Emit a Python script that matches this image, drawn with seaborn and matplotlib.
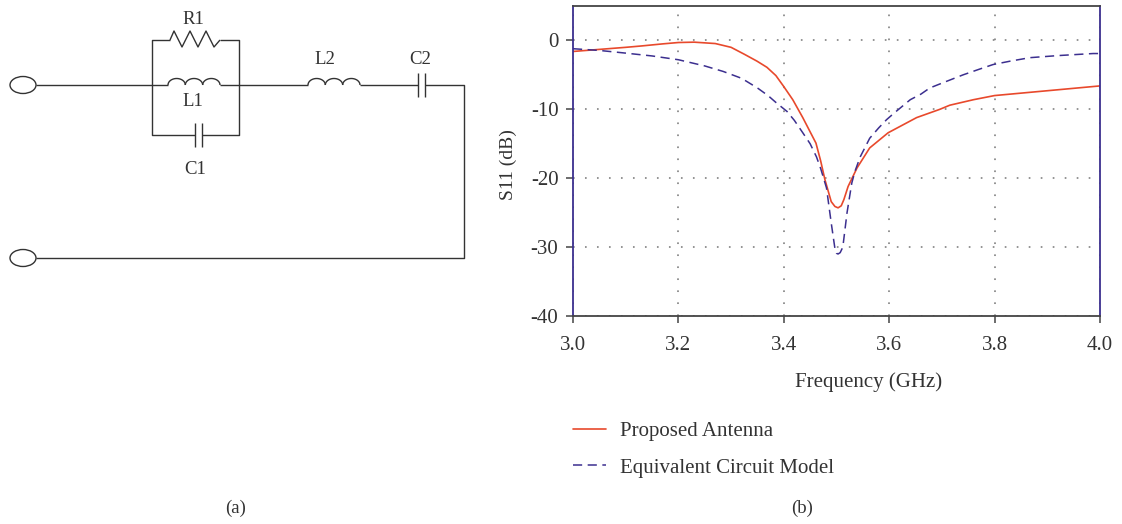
#%% import
import numpy as np
import matplotlib
matplotlib.use('Agg')
import matplotlib.pyplot as plt
from matplotlib.patches import Ellipse
import seaborn as sns

sns.set_theme(style='white')
plt.rcParams['font.family'] = ['Liberation Serif', 'DejaVu Serif']

#%% data
freq_antenna = [3.0, 3.05, 3.1, 3.13, 3.17, 3.2, 3.23, 3.27, 3.3, 3.325, 3.349, 3.368, 3.385, 3.4, 3.417, 3.436, 3.461,
                3.47, 3.478, 3.49, 3.497, 3.503, 3.509, 3.514, 3.522, 3.539, 3.563, 3.598, 3.652, 3.696, 3.715,
                3.76, 3.8, 3.9, 4.0]
s11_antenna = [-1.6, -1.3, -1.0, -0.8, -0.5, -0.3, -0.25, -0.45, -1.0, -2.0, -3.0, -3.9, -5.1, -6.7, -8.6, -11.2, -14.9,
               -17.5, -20.2, -23.4, -24.1, -24.3, -24.0, -23.1, -21.2, -18.5, -15.6, -13.4, -11.2, -10.0, -9.4,
               -8.6, -8.0, -7.3, -6.6]
freq_model = [3.0, 3.05, 3.095, 3.15, 3.2, 3.25, 3.285, 3.32, 3.35, 3.37, 3.385, 3.406, 3.42, 3.436, 3.45, 3.462,
              3.47, 3.481, 3.49, 3.497, 3.5, 3.503, 3.507, 3.512, 3.52, 3.529, 3.535, 3.545, 3.563, 3.58, 3.595,
              3.61, 3.64, 3.66, 3.677, 3.7, 3.74, 3.77, 3.797, 3.83, 3.867, 3.92, 3.987, 4.0]
s11_model = [-1.2, -1.45, -1.8, -2.25, -2.8, -3.7, -4.5, -5.5, -6.9, -8.0, -9.0, -10.3, -11.6, -13.4, -15.0, -16.9,
             -18.6, -21.4, -26.5, -30.2, -30.9, -31.0, -30.8, -30.0, -25.0, -20.7, -19.0, -16.9, -14.2, -12.7, -11.5,
             -10.5, -8.6, -7.8, -6.9, -6.2, -5.0, -4.2, -3.5, -3.0, -2.5, -2.2, -1.9, -1.9]
x_ticks = [3.0, 3.2, 3.4, 3.6, 3.8, 4.0]
y_ticks = [0, -10, -20, -30, -40]
series_names = ['Proposed Antenna', 'Equivalent Circuit Model']

RED = '#e8492c'
BLUE = '#3c2f8f'
INK = '#333333'
W, H = 1122, 524
FS = 15

fig = plt.figure(figsize=(W / 100, H / 100), dpi=100, facecolor='white')

#%% S11 plot
ax = fig.add_axes([573 / W, 1 - 316 / H, 527 / W, 310 / H])
sns.lineplot(x=freq_antenna, y=s11_antenna, ax=ax, color=RED, lw=1.2, label=series_names[0])
sns.lineplot(x=freq_model, y=s11_model, ax=ax, color=BLUE, lw=1.1, dashes=(6, 3.6), label=series_names[1])
ax.set_xlim(3.0, 4.0)
ax.set_ylim(-40, 5)
ax.set_xticks(x_ticks, [f'{t:.1f}' for t in x_ticks])
ax.set_yticks(y_ticks, [str(t) for t in y_ticks])
ax.tick_params(direction='out', length=5, width=1.1, color='#444444', labelsize=FS, labelcolor=INK,
               bottom=True, left=True)
ax.tick_params(axis='x', pad=9.5)
ax.tick_params(axis='y', pad=5.5)
ax.set_xlabel('Frequency (GHz)', fontsize=FS, color=INK, labelpad=12, x=0.561)
ax.set_ylabel('S11 (dB)', fontsize=14, color=INK, labelpad=9.5, y=0.49)
ax.grid(True, color='#777777', lw=1.1, linestyle=(0, (1.1, 6.75)))
ax.set_axisbelow(True)
for side in ['top', 'bottom']:
    ax.spines[side].set_color('#444444')
for side in ['left', 'right']:
    ax.spines[side].set_color(BLUE)
for side in ax.spines:
    ax.spines[side].set_linewidth(1.3)
ax.legend(loc='upper left', bbox_to_anchor=(0, -0.34), borderaxespad=0, borderpad=0, frameon=False, fontsize=FS,
          labelcolor=INK, handlelength=1.6, handletextpad=0.65, labelspacing=0.82)

#%% circuit, drawn on a pixel overlay
sk = fig.add_axes([0, 0, 1, 1], facecolor='none')
sk.set_xlim(0, W)
sk.set_ylim(H, 0)
sk.axis('off')
wire = dict(color=INK, lw=1.0, solid_capstyle='butt')

wires = [([36, 168], [85, 85]), ([220, 308], [85, 85]), ([360, 418], [85, 85]), ([425, 464, 464, 36], [85, 85, 258, 258]),
         ([170, 152, 152, 195], [40, 40, 135, 135]), ([220, 239, 239, 202], [40, 40, 135, 135]),
         ([418, 418], [73, 97]), ([425, 425], [73, 97]), ([195, 195], [123, 147]), ([202, 202], [123, 147])]
for xs, ys in wires:
    sk.plot(xs, ys, **wire)

# resistor
sk.plot([170, 174, 182, 190, 198, 206, 214, 220], [40, 31, 47, 31, 47, 31, 47, 40], **wire)

# inductors
for x0 in [168, 308]:
    for i in range(3):
        t = np.linspace(np.pi, 0, 30)
        sk.plot(x0 + 8.67 + 17.33 * i + 8.67 * np.cos(t), 85 - 6.5 * np.sin(t), **wire)

for y in [85, 258]:
    sk.add_patch(Ellipse((23, y), 26, 17, fc='white', ec=INK, lw=1.0))

labels = [('R1', 193, 19), ('L1', 193, 102), ('C1', 195, 170), ('L2', 325, 60), ('C2', 420, 60), ('(a)', 236, 508),
          ('(b)', 802, 508)]
for s, x, y in labels:
    sk.text(x, y, s, ha='center', va='center', fontsize=13.5, color=INK)

fig.savefig('out.png', dpi=100)
